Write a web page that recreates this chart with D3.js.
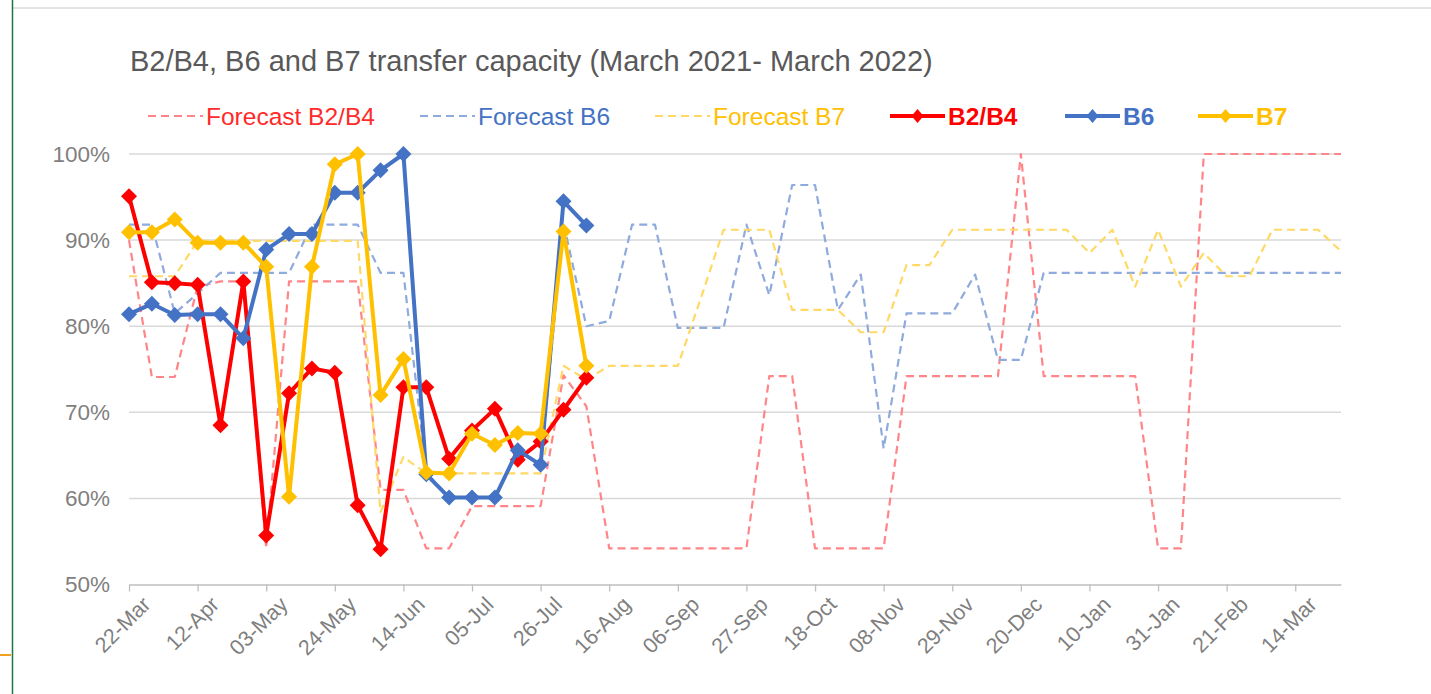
<!DOCTYPE html>
<html><head><meta charset="utf-8">
<script src="https://cdn.jsdelivr.net/npm/d3@7"></script>
<style>
html,body{margin:0;padding:0;background:#fff;overflow:hidden}
svg{display:block;font-family:"Liberation Sans",Arial,sans-serif}
</style>
</head><body>
<svg id="chart" width="1431" height="694"></svg>
<script>
// ---------- DATA ----------
const weeks = ["2021-03-22","2021-03-29","2021-04-05","2021-04-12","2021-04-19","2021-04-26",
"2021-05-03","2021-05-10","2021-05-17","2021-05-24","2021-05-31","2021-06-07","2021-06-14",
"2021-06-21","2021-06-28","2021-07-05","2021-07-12","2021-07-19","2021-07-26","2021-08-02",
"2021-08-09","2021-08-16","2021-08-23","2021-08-30","2021-09-06","2021-09-13","2021-09-20",
"2021-09-27","2021-10-04","2021-10-11","2021-10-18","2021-10-25","2021-11-01","2021-11-08",
"2021-11-15","2021-11-22","2021-11-29","2021-12-06","2021-12-13","2021-12-20","2021-12-27",
"2022-01-03","2022-01-10","2022-01-17","2022-01-24","2022-01-31","2022-02-07","2022-02-14",
"2022-02-21","2022-02-28","2022-03-07","2022-03-14","2022-03-21","2022-03-28"];

const xTickDates = ["2021-03-22","2021-04-12","2021-05-03","2021-05-24","2021-06-14","2021-07-05",
"2021-07-26","2021-08-16","2021-09-06","2021-09-27","2021-10-18","2021-11-08","2021-11-29",
"2021-12-20","2022-01-10","2022-01-31","2022-02-21","2022-03-14"];

const yTicks = [50, 60, 70, 80, 90, 100];

const forecastB2B4 = [90.0,74.1,74.1,84.6,85.2,85.2,54.2,85.2,85.2,85.2,85.2,61.0,61.0,54.2,54.2,
59.1,59.1,59.1,59.1,74.3,70.7,54.2,54.2,54.2,54.2,54.2,54.2,54.2,74.2,74.2,54.2,54.2,54.2,54.2,
74.2,74.2,74.2,74.2,74.2,100,74.2,74.2,74.2,74.2,74.2,54.2,54.2,100,100,100,100,100,100,100];

const forecastB6 = [91.8,91.8,81.5,83.8,86.2,86.2,86.2,86.2,91.8,91.8,91.8,86.2,86.2,63.0,60.1,
60.1,60.1,65.7,63.8,92.0,80.0,80.6,91.8,91.8,79.8,79.8,79.8,91.8,83.6,96.4,96.4,81.9,86.0,65.8,
81.5,81.5,81.5,86.0,76.1,76.1,86.2,86.2,86.2,86.2,86.2,86.2,86.2,86.2,86.2,86.2,86.2,86.2,86.2,86.2];

const forecastB7 = [85.8,85.8,85.8,89.9,89.9,89.9,89.9,89.9,89.9,89.9,89.9,58.4,64.8,62.9,62.9,
62.9,62.9,62.9,62.9,75.4,73.8,75.4,75.4,75.4,75.4,83.2,91.2,91.2,91.2,81.9,81.9,81.9,79.3,79.3,
87.1,87.1,91.2,91.2,91.2,91.2,91.2,91.2,88.5,91.2,84.6,91.2,84.6,88.5,85.8,85.8,91.2,91.2,91.2,88.7];

const actualB2B4 = [95.1,85.1,85.0,84.8,68.5,85.2,55.7,72.2,75.1,74.6,59.2,54.1,72.9,72.9,64.6,
67.9,70.4,64.5,66.6,70.3,74.0];

const actualB6 = [81.4,82.6,81.3,81.4,81.4,78.6,88.9,90.7,90.7,95.5,95.5,98.1,100,62.8,60.1,
60.1,60.1,65.6,63.9,94.5,91.7];

const actualB7 = [90.9,90.9,92.4,89.7,89.7,89.7,86.9,60.2,86.9,98.8,100,72.0,76.2,63.0,62.9,
67.5,66.2,67.6,67.5,91.0,75.4];

// ---------- SETUP ----------
(function () {
const svg = d3.select("#chart");
const parse = d3.utcParse("%Y-%m-%d");
const dates = weeks.map(parse);

const pLeft = 129, pRight = 1341, pTop = 154, pBottom = 584.5;
const x = d3.scaleUtc().domain([dates[0], dates[dates.length - 1]]).range([pLeft, pRight]);
const y = d3.scaleLinear().domain([50, 100]).range([pBottom, pTop]);

// frame artifacts (Excel selection)
svg.append("line").attr("x1", 12).attr("x2", 1431).attr("y1", 8).attr("y2", 8)
  .attr("stroke", "#c8c8c8").attr("stroke-width", 1);
svg.append("line").attr("x1", 12.5).attr("x2", 12.5).attr("y1", 0).attr("y2", 694)
  .attr("stroke", "#217346").attr("stroke-width", 1.5);
svg.append("line").attr("x1", 0).attr("x2", 11).attr("y1", 655).attr("y2", 655)
  .attr("stroke", "#f0a020").attr("stroke-width", 2);

// title
svg.append("text").attr("x", 130).attr("y", 71)
  .attr("font-size", 29).attr("fill", "#595959")
  .text("B2/B4, B6 and B7 transfer capacity (March 2021- March 2022)");

// gridlines
svg.append("g").selectAll("line").data(yTicks.filter(d => d > 50)).join("line")
  .attr("x1", pLeft).attr("x2", pRight)
  .attr("y1", d => y(d)).attr("y2", d => y(d))
  .attr("stroke", "#d9d9d9").attr("stroke-width", 1.5);

// y axis
const yAxis = svg.append("g").attr("transform", `translate(${pLeft},0)`)
  .call(d3.axisLeft(y).tickValues(yTicks).tickFormat(d => d + "%").tickSize(0).tickPadding(19));
yAxis.select(".domain").remove();
yAxis.selectAll("text").attr("font-size", 22.5).attr("fill", "#7f7f7f")
  .attr("font-family", "Liberation Sans, Arial, sans-serif");

// x axis
const xAxis = svg.append("g").attr("transform", `translate(0,${pBottom})`)
  .call(d3.axisBottom(x).tickValues(xTickDates.map(parse))
    .tickFormat(d3.utcFormat("%d-%b")).tickSize(7).tickSizeOuter(0));
xAxis.select(".domain").attr("stroke", "#bfbfbf").attr("stroke-width", 1.5);
xAxis.selectAll(".tick line").attr("stroke", "#bfbfbf").attr("stroke-width", 1.3);
xAxis.selectAll("text").attr("font-size", 21.5).attr("fill", "#7f7f7f")
  .attr("font-family", "Liberation Sans, Arial, sans-serif")
  .attr("text-anchor", "end").attr("x", 0).attr("y", 0).attr("dy", "0.35em")
  .attr("transform", "translate(17,16) rotate(-45)");

// ---------- SERIES ----------
const series = [
  {name: "Forecast B2/B4", values: forecastB2B4, color: "#ff8589", dash: true, text: "#ff2a2a", bold: false, lx: 148},
  {name: "Forecast B6", values: forecastB6, color: "#8faadc", dash: true, text: "#4472c4", bold: false, lx: 420},
  {name: "Forecast B7", values: forecastB7, color: "#ffd966", dash: true, text: "#ffc000", bold: false, lx: 655},
  {name: "B2/B4", values: actualB2B4, color: "#ff0000", dash: false, text: "#ff0000", bold: true, lx: 890},
  {name: "B6", values: actualB6, color: "#4472c4", dash: false, text: "#4472c4", bold: true, lx: 1065},
  {name: "B7", values: actualB7, color: "#ffc000", dash: false, text: "#ffc000", bold: true, lx: 1198}
];

const line = d3.line().defined(d => d != null).x((d, i) => x(dates[i])).y(d => y(d));
const diamond = "M0,-8L8,0L0,8L-8,0Z";

series.forEach(s => {
  const g = svg.append("g");
  g.append("path").datum(s.values).attr("d", line)
    .attr("fill", "none").attr("stroke", s.color)
    .attr("stroke-width", s.dash ? 2.2 : 4)
    .attr("stroke-dasharray", s.dash ? "8,5" : null)
    .attr("stroke-linejoin", "round");
  if (!s.dash) {
    g.selectAll("path.m").data(s.values).join("path").attr("class", "m")
      .attr("d", diamond)
      .attr("transform", (d, i) => `translate(${x(dates[i])},${y(d)})`)
      .attr("fill", s.color);
  }
});

// ---------- LEGEND ----------
const ly = 116;
series.forEach(s => {
  const g = svg.append("g").attr("transform", `translate(${s.lx},${ly})`);
  g.append("line").attr("x1", 0).attr("x2", 55).attr("y1", 0).attr("y2", 0)
    .attr("stroke", s.color).attr("stroke-width", s.dash ? 2.2 : 4)
    .attr("stroke-dasharray", s.dash ? "8,5" : null);
  if (!s.dash) g.append("path").attr("d", "M0,-7L6,0L0,7L-6,0Z")
    .attr("transform", "translate(27.5,0)").attr("fill", s.color);
  g.append("text").attr("x", 58).attr("y", 0).attr("dy", "0.35em")
    .attr("font-size", 24.5).attr("font-weight", s.bold ? "bold" : "normal")
    .attr("fill", s.text).text(s.name);
});
})();
</script>
</body></html>
